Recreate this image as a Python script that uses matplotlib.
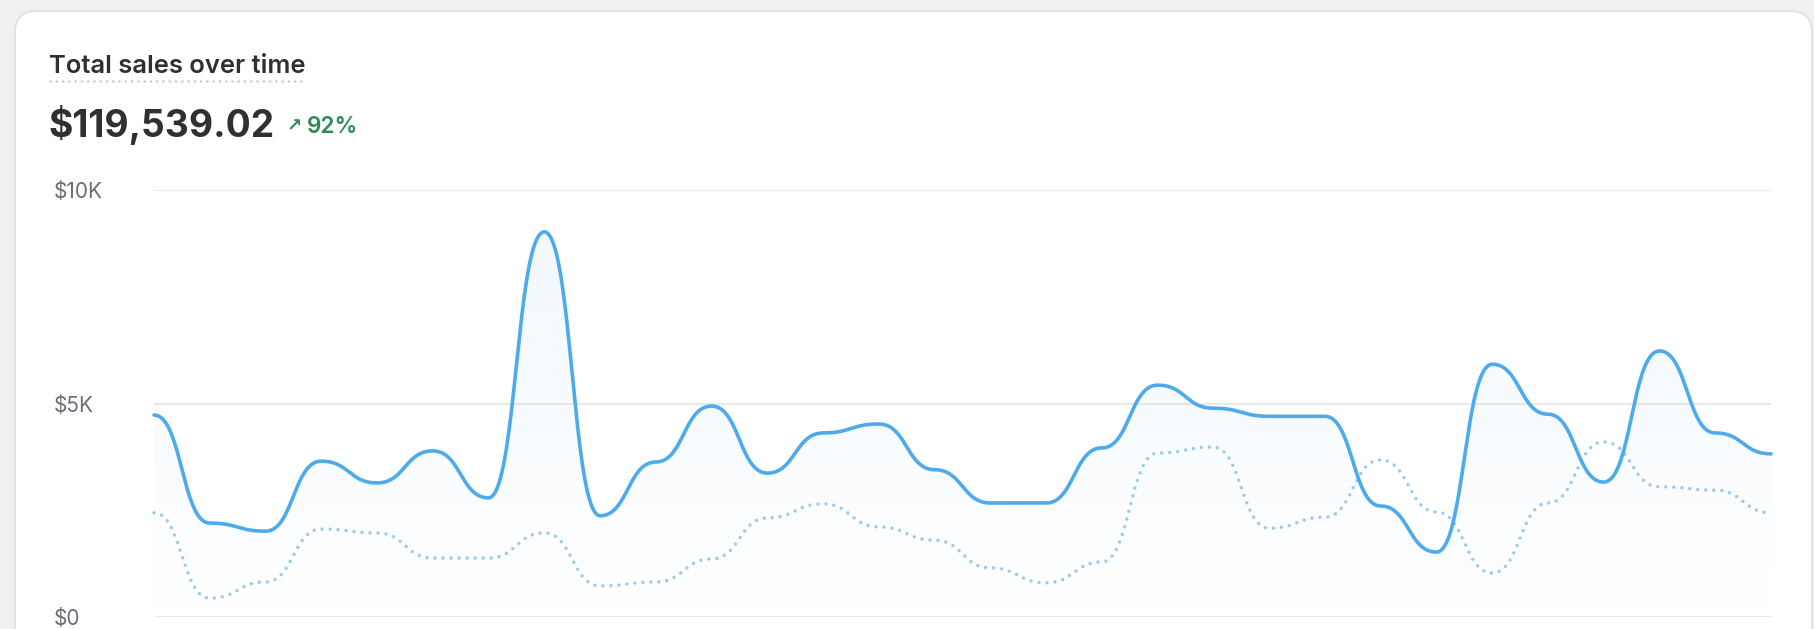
import numpy as np
import matplotlib
matplotlib.use("Agg")
import matplotlib.pyplot as plt
from matplotlib.patches import FancyBboxPatch, Polygon

plt.rcParams['font.family'] = ['Inter', 'DejaVu Sans']

# Daily sales (30 days), current period vs comparison period
days = np.arange(30)
sales = [4730, 2200, 2010, 3650, 3140, 3890, 2790, 9020, 2370, 3630,
         4940, 3370, 4310, 4520, 3450, 2670, 2670, 3960, 5430, 4890,
         4700, 4700, 2600, 1520, 5920, 4750, 3160, 6230, 4310, 3820]
prev_sales = [2440, 440, 820, 2060, 1970, 1380, 1380, 1970, 730, 820,
              1360, 2320, 2650, 2110, 1800, 1150, 800, 1290, 3840, 3980,
              2080, 2340, 3680, 2460, 1030, 2670, 4100, 3050, 2970, 2440]
y_ticks = [0, 5000, 10000]
y_labels = ["$0", "$5K", "$10K"]
title = "Total sales over time"
total = "$119,539.02"
change = "92%"


def bump(x, y, n=40):
    # smooth path with flat tangents at every point (like d3.curveBumpX)
    x = np.asarray(x, float)
    y = np.asarray(y, float)
    u = np.linspace(0, 1, n, endpoint=False)[:, None]
    x0, x1, y0, y1 = x[:-1], x[1:], y[:-1], y[1:]
    xm = (x0 + x1) / 2
    b0, b1, b2, b3 = (1 - u)**3, 3 * u * (1 - u)**2, 3 * u**2 * (1 - u), u**3
    xs = b0 * x0 + b1 * xm + b2 * xm + b3 * x1
    ys = b0 * y0 + b1 * y0 + b2 * y1 + b3 * y1
    xs = np.r_[xs.T.ravel(), x[-1]]
    ys = np.r_[ys.T.ravel(), y[-1]]
    return xs, ys


W, H = 1814, 629
fig = plt.figure(figsize=(W / 100, H / 100), dpi=100, facecolor="#f1f1f1")

# card background in pixel coordinates
bg = fig.add_axes([0, 0, 1, 1])
bg.set_xlim(0, W)
bg.set_ylim(H, 0)
bg.axis("off")
card = FancyBboxPatch((15, 11), 1797, 700, boxstyle="round,pad=0,rounding_size=22",
                      fc="white", ec="#e1e1e1", lw=1.3)
bg.add_patch(card)

# header texts
fig.text(49 / W, 1 - 73 / H, title, fontsize=18.4, fontweight="semibold",
         color="#303030", va="baseline")
fig.text(48 / W, 1 - 137 / H, total, fontsize=26.8, fontweight="bold",
         color="#303030", va="baseline")
fig.text(287 / W, 1 - 131 / H, "↗", fontsize=13, fontweight="bold",
         color="#2f8a55", va="baseline", family=["DejaVu Sans"])
fig.text(307 / W, 1 - 132.5 / H, change, fontsize=16.3, fontweight="semibold",
         color="#2f8a55", va="baseline")

# dotted underline below the title
bg.plot([50, 306], [81, 81], color="#c6c6c6", lw=1.8, linestyle=(0, (0.01, 2.5)),
        dash_capstyle="round")

ax = fig.add_axes([154 / W, 12 / H, 1617 / W, 427 / H])
ax.set_facecolor("none")
ax.set_xlim(days[0], days[-1])
ax.set_ylim(0, 10000)

xs, ys = bump(days, sales)
xp, yp = bump(days, prev_sales)

# gradient fill below the current period line
grad = np.linspace(0.0, 1.0, 256).reshape(-1, 1)
rgba = np.zeros((256, 1, 4))
rgba[..., 0] = 77 / 255
rgba[..., 1] = 166 / 255
rgba[..., 2] = 232 / 255
rgba[..., 3] = 0.003 + 0.07 * grad
im = ax.imshow(rgba, extent=[days[0], days[-1], 0, max(sales)], origin="lower",
               aspect="auto", zorder=1)
clip = Polygon(np.column_stack([np.r_[xs, xs[-1], xs[0]], np.r_[ys, 0, 0]]),
               closed=True, transform=ax.transData, fc="none", ec="none")
ax.add_patch(clip)
im.set_clip_path(clip)

ax.plot(xp, yp, color="#9ccbef", lw=2.5, linestyle=(0, (0.01, 2.3)),
        dash_capstyle="round", zorder=2, clip_on=False)
ax.plot(xs, ys, color="#4dabec", lw=2.6, solid_capstyle="round", zorder=3,
        clip_on=False)

ax.set_yticks(y_ticks)
ax.set_yticklabels(y_labels)
ax.set_xticks([])
ax.grid(axis="y", color="#e9e9e9", lw=1.4, zorder=0)
ax.set_axisbelow(True)
for sp in ax.spines.values():
    sp.set_visible(False)
ax.tick_params(axis="y", length=0, pad=72, labelsize=15, labelcolor="#6d6d78")
for lab in ax.get_yticklabels():
    lab.set_ha("left")

fig.savefig("out.png", dpi=100, facecolor=fig.get_facecolor())
